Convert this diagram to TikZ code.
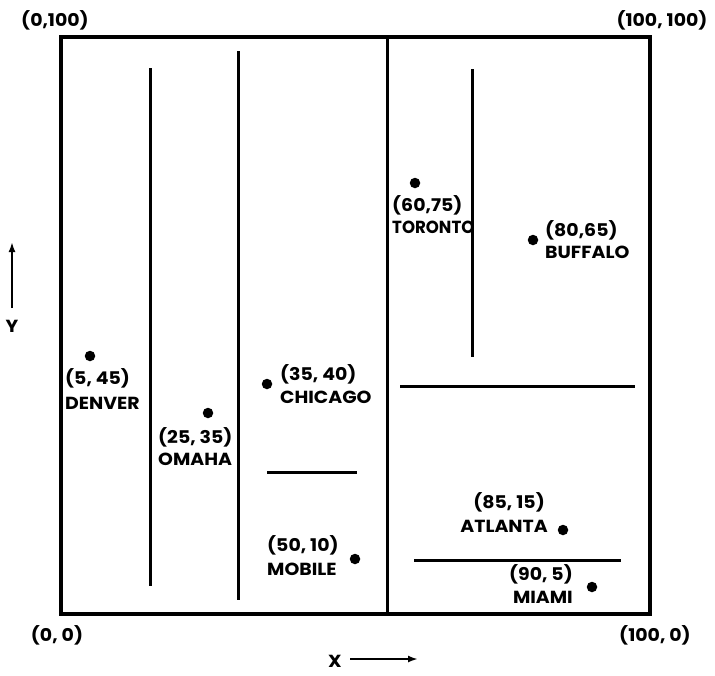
\documentclass[tikz,border=0pt]{standalone}
\usepackage{fontspec}
\setmainfont{Poppins}[FakeStretch=1.08]
\usetikzlibrary{arrows.meta}
\begin{document}
\begin{tikzpicture}[x=1pt,y=-1pt,
  wall/.style={line width=3pt},
  frame/.style={line width=3.5pt},
  dot/.style={circle,fill=black,inner sep=0pt,minimum size=10.5pt},
  lbl/.style={inner sep=0pt,font=\fontsize{17.5}{20}\selectfont\bfseries},
  lw/.style={lbl,anchor=base west},
  le/.style={lbl,anchor=base east},
  lc/.style={lbl,anchor=base}]
\useasboundingbox (0,0) rectangle (715,675);
% frame and partitions
\draw[frame] (61,37) rectangle (650,614);
\draw[wall] (387,37) -- (387,614);
\draw[wall] (150,68) -- (150,586);
\draw[wall] (238,51) -- (238,600);
\draw[wall] (267,472) -- (357,472);
\draw[wall] (472,69) -- (472,357);
\draw[wall] (400,386) -- (635,386);
\draw[wall] (414,560) -- (621,560);
% corner labels
\node[lc] (c0100) at (55,26) {(0,100)};
\node[lc] (c100100) at (662,26) {(100, 100)};
\node[lc] (c00) at (57,641) {(0, 0)};
\node[lc] (c1000) at (655,641) {(100, 0)};
% axes
\node[lc] (xl) at (335,667) {X};
\coordinate (xa) at (350,659);
\coordinate (xb) at (418,659);
\draw[line width=2.6pt,-{Latex[length=10pt,width=7pt]}] (xa) -- (xb);
\node[lc] (yl) at (12,332) {Y};
\coordinate (ya) at (12,308);
\coordinate (yb) at (12,242);
\draw[line width=2.6pt,-{Latex[length=10pt,width=7pt]}] (ya) -- (yb);
% cities
\node[dot] (denver) at (90,356) {};
\node[lw] (denverc) at (65,384) {(5, 45)};
\node[lw] (denvern) at (65,409) {DENVER};
\node[dot] (omaha) at (208,413) {};
\node[lw] (omahac) at (158,443) {(25, 35)};
\node[lw] (omahan) at (158,465) {OMAHA};
\node[dot] (chicago) at (267,384) {};
\node[lw] (chicagoc) at (280,380) {(35, 40)};
\node[lw] (chicagon) at (280,403) {CHICAGO};
\node[dot] (mobile) at (355,559) {};
\node[lw] (mobilec) at (267,551) {(50, 10)};
\node[lw] (mobilen) at (267,575) {MOBILE};
\node[dot] (toronto) at (415,183) {};
\node[lw] (torontoc) at (392,211) {(60,75)};
\node[lw,xscale=0.88] (toronton) at (392,233) {TORONTO};
\node[dot] (buffalo) at (533,240) {};
\node[lw] (buffaloc) at (545,236) {(80,65)};
\node[lw] (buffalon) at (545,258) {BUFFALO};
\node[dot] (atlanta) at (563,530) {};
\node[le] (atlantac) at (545,508) {(85, 15)};
\node[le] (atlantan) at (548,532) {ATLANTA};
\node[dot] (miami) at (592,587) {};
\node[le] (miamic) at (573,580) {(90, 5)};
\node[le] (miamin) at (573,603) {MIAMI};
\end{tikzpicture}
\end{document}
